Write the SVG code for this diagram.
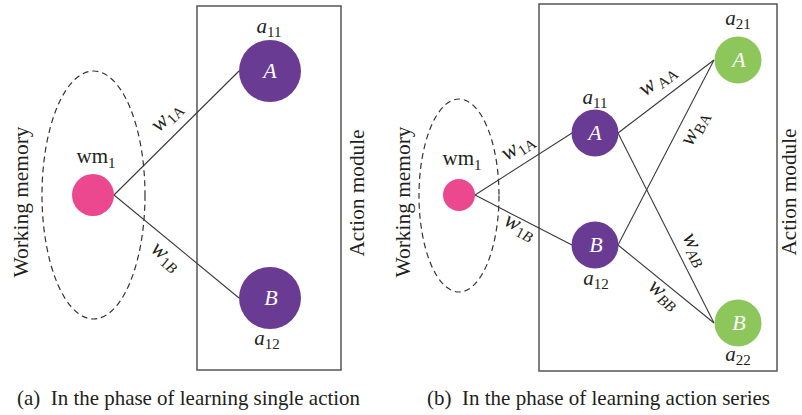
<svg xmlns="http://www.w3.org/2000/svg" width="802" height="415" viewBox="0 0 802 415">
<style>
text{font-family:"Liberation Serif","Times New Roman",serif;fill:#231f20}
.lbl{font-size:21px}
.cap{font-size:21px}
.it{font-style:italic}
.sub{font-size:15px}
.w{font-style:italic;font-size:23px}
.node{font-style:italic;font-size:22px;fill:#fff}
.edge{stroke:#3a3a3a;stroke-width:1.1;fill:none}
.box{stroke:#555;stroke-width:1.5;fill:none}
.wm{stroke:#333;stroke-width:1.2;stroke-dasharray:6 4;fill:none}
.purple{fill:#6a3b93}
.green{fill:#8dc75b}
.pink{fill:#ec4890}
</style>
<rect width="802" height="415" fill="#fff"/>
<!-- Panel (a) -->
<g id="a-frames">
<ellipse class="wm" cx="93.5" cy="195" rx="51.5" ry="124"/>
<rect class="box" x="197" y="6" width="144" height="364"/>
<text class="lbl" transform="translate(28,202) rotate(-90)" text-anchor="middle" textLength="151" lengthAdjust="spacingAndGlyphs">Working memory</text>
<text class="lbl" transform="translate(364,193) rotate(-90)" text-anchor="middle" textLength="127" lengthAdjust="spacingAndGlyphs">Action module</text>
</g>
<g id="a-connectors">
<line class="edge" x1="114" y1="195" x2="239" y2="71"/>
<line class="edge" x1="114" y1="195" x2="239" y2="298"/>
<text transform="translate(171,121) rotate(-45)" text-anchor="middle"><tspan class="w">w</tspan><tspan class="sub" dy="4">1A</tspan></text>
<text transform="translate(162,261) rotate(39.5)" text-anchor="middle"><tspan class="w">w</tspan><tspan class="sub" dy="4">1<tspan class="it">B</tspan></tspan></text>
</g>
<g id="a-wm1">
<circle class="pink" cx="93" cy="195" r="21"/>
<text class="lbl" x="96" y="163" text-anchor="middle">wm<tspan class="sub" dy="5">1</tspan></text>
</g>
<g id="a-A">
<circle class="purple" cx="270" cy="71" r="31"/>
<text class="node" x="270" y="78" text-anchor="middle">A</text>
<text class="lbl" x="269" y="33" text-anchor="middle"><tspan class="it">a</tspan><tspan class="sub" dy="4">11</tspan></text>
</g>
<g id="a-B">
<circle class="purple" cx="270" cy="298" r="31"/>
<text class="node" x="271" y="305" text-anchor="middle">B</text>
<text class="lbl" x="267" y="345" text-anchor="middle"><tspan class="it">a</tspan><tspan class="sub" dy="4">12</tspan></text>
</g>
<text class="cap" x="17" y="405" textLength="343" lengthAdjust="spacingAndGlyphs">(a)&#160;&#160;In the phase of learning single action</text>

<!-- Panel (b) -->
<g id="b-frames">
<ellipse class="wm" cx="459" cy="195.5" rx="40" ry="96.5"/>
<rect class="box" x="539" y="4" width="238" height="367"/>
<text class="lbl" transform="translate(410,202) rotate(-90)" text-anchor="middle" textLength="151" lengthAdjust="spacingAndGlyphs">Working memory</text>
<text class="lbl" transform="translate(796,192) rotate(-90)" text-anchor="middle" textLength="127" lengthAdjust="spacingAndGlyphs">Action module</text>
</g>
<g id="b-connectors">
<line class="edge" x1="475" y1="195" x2="572" y2="133"/>
<line class="edge" x1="475" y1="195" x2="572" y2="245"/>
<line class="edge" x1="618" y1="133" x2="714" y2="60"/>
<line class="edge" x1="618" y1="133" x2="714" y2="323"/>
<line class="edge" x1="618" y1="245" x2="714" y2="60"/>
<line class="edge" x1="618" y1="245" x2="714" y2="323"/>
<text transform="translate(521,152) rotate(-33)" text-anchor="middle"><tspan class="w">w</tspan><tspan class="sub" dy="4">1A</tspan></text>
<text transform="translate(517,232) rotate(27.5)" text-anchor="middle"><tspan class="w">w</tspan><tspan class="sub" dy="4">1<tspan class="it">B</tspan></tspan></text>
<text transform="translate(661,85) rotate(-37)" text-anchor="middle"><tspan class="w">w</tspan><tspan class="sub" dx="3" dy="4">AA</tspan></text>
<text transform="translate(700,131) rotate(-62.6)" text-anchor="middle"><tspan class="w">w</tspan><tspan class="sub" dy="4">BA</tspan></text>
<text transform="translate(690,252) rotate(63)" text-anchor="middle"><tspan class="w">w</tspan><tspan class="sub it" dy="4">AB</tspan></text>
<text transform="translate(660,299) rotate(39)" text-anchor="middle"><tspan class="w">w</tspan><tspan class="sub it" dy="4">BB</tspan></text>
</g>
<g id="b-wm1">
<circle class="pink" cx="459" cy="195" r="16"/>
<text class="lbl" x="462" y="165" text-anchor="middle">wm<tspan class="sub" dy="5">1</tspan></text>
</g>
<g id="b-A1">
<circle class="purple" cx="595" cy="133" r="23.5"/>
<text class="node" x="595" y="140" text-anchor="middle">A</text>
<text class="lbl" x="595" y="104" text-anchor="middle"><tspan class="it">a</tspan><tspan class="sub" dy="4">11</tspan></text>
</g>
<g id="b-B1">
<circle class="purple" cx="595" cy="245" r="23.5"/>
<text class="node" x="596" y="252" text-anchor="middle">B</text>
<text class="lbl" x="596" y="285" text-anchor="middle"><tspan class="it">a</tspan><tspan class="sub" dy="4">12</tspan></text>
</g>
<g id="b-A2">
<circle class="green" cx="738" cy="60" r="23.5"/>
<text class="node" x="739" y="67" text-anchor="middle">A</text>
<text class="lbl" x="738" y="25" text-anchor="middle"><tspan class="it">a</tspan><tspan class="sub" dy="4">21</tspan></text>
</g>
<g id="b-B2">
<circle class="green" cx="738" cy="323" r="23.5"/>
<text class="node" x="739" y="330" text-anchor="middle">B</text>
<text class="lbl" x="738" y="361" text-anchor="middle"><tspan class="it">a</tspan><tspan class="sub" dy="4">22</tspan></text>
</g>
<text class="cap" x="427" y="405" textLength="343" lengthAdjust="spacingAndGlyphs">(b)&#160;&#160;In the phase of learning action series</text>
</svg>
